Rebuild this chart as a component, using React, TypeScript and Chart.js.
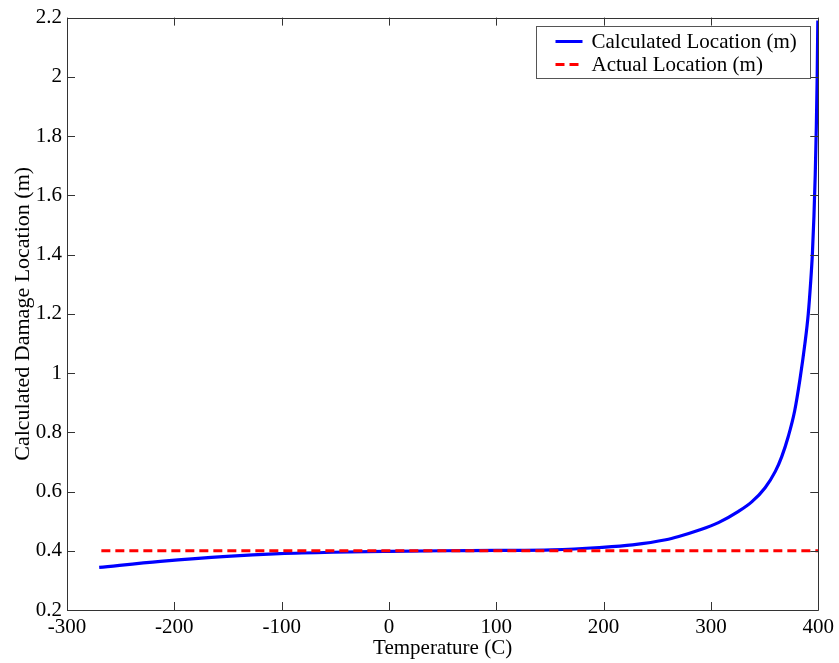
import React, { useEffect, useRef } from "react";
import { Chart, registerables } from "chart.js";

Chart.register(...registerables);

const calcTemps = [
  -270, -213, -151, -102, -52, 0, 50, 100, 152, 196, 227, 258, 270, 288.5,
  307, 325.7, 338, 350.5, 360, 366, 372, 378, 383, 387.6, 390.7, 392.8, 394.5,
  396, 397.2, 398.2, 399, 399.6,
];
const calcLocations = [
  0.344, 0.364, 0.381, 0.39, 0.395, 0.398, 0.4, 0.401, 0.403, 0.411, 0.42,
  0.437, 0.448, 0.469, 0.495, 0.533, 0.565, 0.613, 0.668, 0.718, 0.785, 0.872,
  0.98, 1.1, 1.2, 1.3, 1.4, 1.53, 1.67, 1.83, 2.0, 2.19,
];
const actualTemps = [-268, 400];
const actualLocations = [0.4, 0.4];

const seriesLabels = ["Calculated Location (m)", "Actual Location (m)"];
const xTitle = "Temperature (C)";
const yTitle = "Calculated Damage Location (m)";
const xMin = -300, xMax = 400, xStep = 100;
const yMin = 0.2, yMax = 2.2, yStep = 0.2;

const FONT = "'Liberation Serif', 'Times New Roman', serif";
const FONT_SIZE = 21;
const YTITLE_SIZE = 22;

const boxPlugin = {
  id: "matlabBox",
  afterDatasetsDraw(chart: any) {
    const { ctx, chartArea: a, scales } = chart;
    ctx.save();
    ctx.strokeStyle = "#333";
    ctx.lineWidth = 1;
    ctx.beginPath();
    ctx.rect(Math.round(a.left) + 0.5, Math.round(a.top) + 0.5, Math.round(a.right - a.left), Math.round(a.bottom - a.top));
    const tl = 8;
    scales.x.ticks.forEach((t: any) => {
      const x = Math.round(scales.x.getPixelForValue(t.value)) + 0.5;
      ctx.moveTo(x, a.bottom);
      ctx.lineTo(x, a.bottom - tl);
      ctx.moveTo(x, a.top);
      ctx.lineTo(x, a.top + tl);
    });
    scales.y.ticks.forEach((t: any) => {
      const y = Math.round(scales.y.getPixelForValue(t.value)) + 0.5;
      ctx.moveTo(a.left, y);
      ctx.lineTo(a.left + tl, y);
      ctx.moveTo(a.right, y);
      ctx.lineTo(a.right - tl, y);
    });
    ctx.stroke();

    // legend box inside plot, top-right
    const boxW = 274, boxH = 52;
    const bx = Math.round(a.right - 8 - boxW) + 0.5;
    const by = Math.round(a.top + 8) + 0.5;
    ctx.fillStyle = "#fff";
    ctx.fillRect(bx, by, boxW, boxH);
    ctx.strokeStyle = "#555";
    ctx.strokeRect(bx, by, boxW, boxH);
    ctx.font = `${FONT_SIZE}px ${FONT}`;
    ctx.textBaseline = "middle";
    ctx.textAlign = "left";
    const rows = [by + 15, by + 38];
    chart.data.datasets.forEach((ds: any) => {
      const y = rows[ds.legendIndex];
      ctx.strokeStyle = ds.borderColor;
      ctx.lineWidth = 3;
      ctx.setLineDash(ds.borderDash || []);
      ctx.beginPath();
      ctx.moveTo(bx + 19, y);
      ctx.lineTo(bx + 46, y);
      ctx.stroke();
      ctx.setLineDash([]);
      ctx.fillStyle = "#000";
      ctx.fillText(ds.label, bx + 55, y + 1);
    });
    ctx.restore();
  },
};

export default function App() {
  const ref = useRef<HTMLCanvasElement>(null);
  useEffect(() => {
    if (!ref.current) return;
    const chart = new Chart(ref.current, {
      type: "line",
      data: {
        datasets: [
          {
            label: seriesLabels[1],
            legendIndex: 1,
            data: actualTemps.map((x, i) => ({ x, y: actualLocations[i] })),
            borderColor: "#ff0000",
            borderWidth: 3,
            borderDash: [9, 5],
            pointRadius: 0,
            fill: false,
            order: 0,
          } as any,
          {
            label: seriesLabels[0],
            legendIndex: 0,
            data: calcTemps.map((x, i) => ({ x, y: calcLocations[i] })),
            borderColor: "#0000ff",
            borderWidth: 3.2,
            pointRadius: 0,
            fill: false,
            cubicInterpolationMode: "monotone",
            order: 1,
          } as any,
        ],
      },
      options: {
        animation: false,
        responsive: false,
        events: [],
        layout: { padding: { top: 17, right: 19, left: 0, bottom: 0 } },
        plugins: { legend: { display: false }, tooltip: { enabled: false } },
        scales: {
          x: {
            type: "linear",
            min: xMin,
            max: xMax,
            grid: { display: false, drawTicks: false },
            border: { display: false },
            ticks: {
              stepSize: xStep,
              color: "#000",
              padding: 5,
              maxRotation: 0,
              font: { family: FONT, size: FONT_SIZE },
              callback: (v: any) => String(Math.round(Number(v))),
            },
            title: {
              display: true,
              text: xTitle,
              color: "#000",
              font: { family: FONT, size: FONT_SIZE },
              padding: { top: 0, bottom: 2 },
            },
            afterFit: (s: any) => {
              s.height = 53;
            },
          },
          y: {
            type: "linear",
            min: yMin,
            max: yMax,
            grid: { display: false, drawTicks: false },
            border: { display: false },
            ticks: {
              stepSize: yStep,
              color: "#000",
              padding: 5,
              font: { family: FONT, size: FONT_SIZE },
              callback: (v: any) => String(Number(Number(v).toFixed(1))),
            },
            title: {
              display: true,
              text: yTitle,
              color: "#000",
              font: { family: FONT, size: YTITLE_SIZE },
              padding: { top: 10, bottom: 0 },
            },
            afterFit: (s: any) => {
              s.width = 67;
            },
          },
        },
      },
      plugins: [boxPlugin],
    });
    return () => chart.destroy();
  }, []);
  return (
    <div style={{ position: "fixed", left: 0, top: 0, width: 839, height: 663, background: "#fff" }}>
      <canvas ref={ref} width={839} height={663} style={{ display: "block" }} />
    </div>
  );
}
